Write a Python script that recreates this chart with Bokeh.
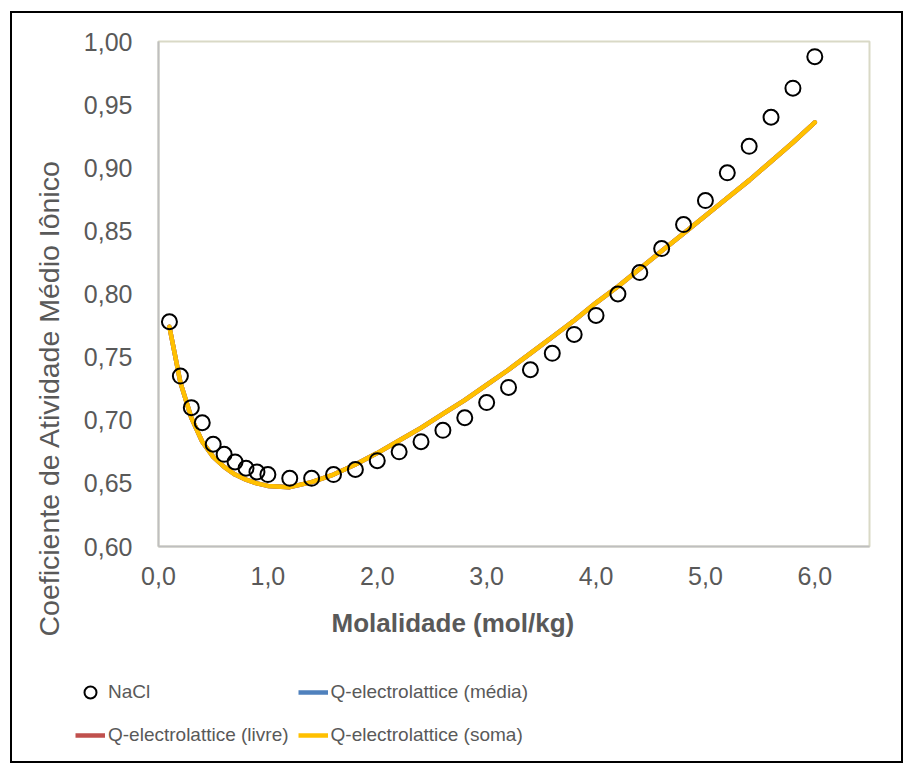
from bokeh.plotting import figure
from bokeh.layouts import column
from bokeh.models import (FixedTicker, CustomJSTickFormatter, Legend, LegendItem,
                          Title, Range1d)
from bokeh.embed import file_html
from bokeh.resources import INLINE

# ---- data ----
nacl_m = [0.1, 0.2, 0.3, 0.4, 0.5, 0.6, 0.7, 0.8, 0.9, 1.0,
          1.2, 1.4, 1.6, 1.8, 2.0, 2.2, 2.4, 2.6, 2.8, 3.0,
          3.2, 3.4, 3.6, 3.8, 4.0, 4.2, 4.4, 4.6, 4.8, 5.0,
          5.2, 5.4, 5.6, 5.8, 6.0]
nacl_gamma = [0.778, 0.735, 0.710, 0.698, 0.681, 0.673, 0.667, 0.662, 0.659, 0.657,
              0.654, 0.654, 0.657, 0.661, 0.668, 0.675, 0.683, 0.692, 0.702, 0.714,
              0.726, 0.740, 0.753, 0.768, 0.783, 0.800, 0.817, 0.836, 0.855, 0.874,
              0.896, 0.917, 0.940, 0.963, 0.988]

model_m = nacl_m
q_media = [0.774, 0.730, 0.702, 0.683, 0.671, 0.663, 0.657, 0.653, 0.650, 0.648,
           0.647, 0.651, 0.657, 0.665, 0.674, 0.684, 0.694, 0.705, 0.716, 0.728,
           0.740, 0.753, 0.766, 0.779, 0.793, 0.806, 0.820, 0.834, 0.848, 0.862,
           0.876, 0.890, 0.905, 0.920, 0.936]
q_livre = [0.774, 0.730, 0.702, 0.683, 0.671, 0.663, 0.657, 0.653, 0.650, 0.648,
           0.647, 0.651, 0.657, 0.665, 0.674, 0.684, 0.694, 0.705, 0.716, 0.728,
           0.740, 0.753, 0.766, 0.779, 0.793, 0.806, 0.820, 0.834, 0.848, 0.862,
           0.876, 0.890, 0.905, 0.920, 0.936]
q_soma = [0.774, 0.730, 0.702, 0.683, 0.671, 0.663, 0.657, 0.653, 0.650, 0.648,
          0.647, 0.651, 0.657, 0.665, 0.674, 0.684, 0.694, 0.705, 0.716, 0.728,
          0.740, 0.753, 0.766, 0.779, 0.793, 0.806, 0.820, 0.834, 0.848, 0.862,
          0.876, 0.890, 0.905, 0.920, 0.936]

x_ticks = [0, 1, 2, 3, 4, 5, 6]
y_ticks = [0.60, 0.65, 0.70, 0.75, 0.80, 0.85, 0.90, 0.95, 1.00]

x_title = "Molalidade (mol/kg)"
y_title = "Coeficiente de Atividade Médio Iônico"
labels = ["NaCl", "Q-electrolattice (média)", "Q-electrolattice (livre)",
          "Q-electrolattice (soma)"]

FONT = "Liberation Sans"
GREY = "#595959"
C_MEDIA, C_LIVRE, C_SOMA = "#4F81BD", "#C0504D", "#FFC000"

# ---------------- main plot ----------------
p = figure(width=889, height=642, output_backend="svg", toolbar_location=None,
           x_range=Range1d(0, 6.5), y_range=Range1d(0.6, 1.0),
           min_border_left=146, min_border_right=32, min_border_top=28,
           min_border_bottom=108)
p.frame_align = False

p.outline_line_color = "#D9D9C6"
p.outline_line_width = 2
p.grid.visible = False

for ax in (p.xaxis[0], p.yaxis[0]):
    ax.major_tick_line_color = None
    ax.minor_tick_line_color = None
    ax.axis_line_color = "#BFBFBF"
    ax.axis_line_width = 2
    ax.major_label_text_font = FONT
    ax.major_label_text_font_size = "25px"
    ax.major_label_text_color = GREY

p.xaxis.ticker = FixedTicker(ticks=x_ticks)
p.yaxis.ticker = FixedTicker(ticks=y_ticks)
p.xaxis.formatter = CustomJSTickFormatter(code="return tick.toFixed(1).replace('.', ',');")
p.yaxis.formatter = CustomJSTickFormatter(code="return tick.toFixed(2).replace('.', ',');")
p.xaxis.major_label_standoff = 14
p.yaxis.major_label_standoff = 20

p.line(model_m, q_media, line_color=C_MEDIA, line_width=4.5, line_cap="round")
p.line(model_m, q_livre, line_color=C_LIVRE, line_width=4.5, line_cap="round")
p.line(model_m, q_soma, line_color=C_SOMA, line_width=4.5, line_cap="round")
p.scatter(nacl_m, nacl_gamma, marker="circle", size=15, fill_color=None,
          line_color="black", line_width=2)

p.add_layout(Title(text=x_title, align="left", offset=173, standoff=36,
                   text_font=FONT, text_font_size="26px", text_font_style="bold",
                   text_color=GREY), "below")
p.add_layout(Title(text=y_title, align="left", offset=-90, standoff=32,
                   text_font=FONT, text_font_size="28.5px", text_font_style="normal",
                   text_color=GREY), "left")

# ---------------- legend strip ----------------
q = figure(width=889, height=106, output_backend="svg", toolbar_location=None,
           x_axis_location=None, y_axis_location=None,
           x_range=Range1d(0, 6.5), y_range=Range1d(0.6, 1.0),
           min_border_left=0, min_border_right=0, min_border_top=0,
           min_border_bottom=0)
q.frame_align = False
q.outline_line_color = None
q.grid.visible = False
g_nacl = q.scatter(nacl_m, nacl_gamma, marker="circle", size=12, fill_color=None,
                   line_color="black", line_width=2, visible=False)
g_media = q.line(model_m, q_media, line_color=C_MEDIA, line_width=4.5, visible=False)
g_livre = q.line(model_m, q_livre, line_color=C_LIVRE, line_width=4.5, visible=False)
g_soma = q.line(model_m, q_soma, line_color=C_SOMA, line_width=4.5, visible=False)

legend = Legend(items=[LegendItem(label=labels[0], renderers=[g_nacl]),
                       LegendItem(label=labels[1], renderers=[g_media]),
                       LegendItem(label=labels[2], renderers=[g_livre]),
                       LegendItem(label=labels[3], renderers=[g_soma])],
                location=(63, 9), orientation="horizontal", nrows=2,
                glyph_width=30, glyph_height=34, label_height=34,
                label_standoff=3, spacing=9, padding=0, margin=0,
                border_line_color=None, background_fill_alpha=0,
                inactive_fill_alpha=0,
                label_text_font=FONT, label_text_font_size="19px",
                label_text_color=GREY)
q.add_layout(legend)

layout = column(p, q, spacing=0, margin=(11, 0, 0, 10),
                styles={"border": "2px solid black"})

open("out.html", "w").write(file_html(layout, INLINE))
